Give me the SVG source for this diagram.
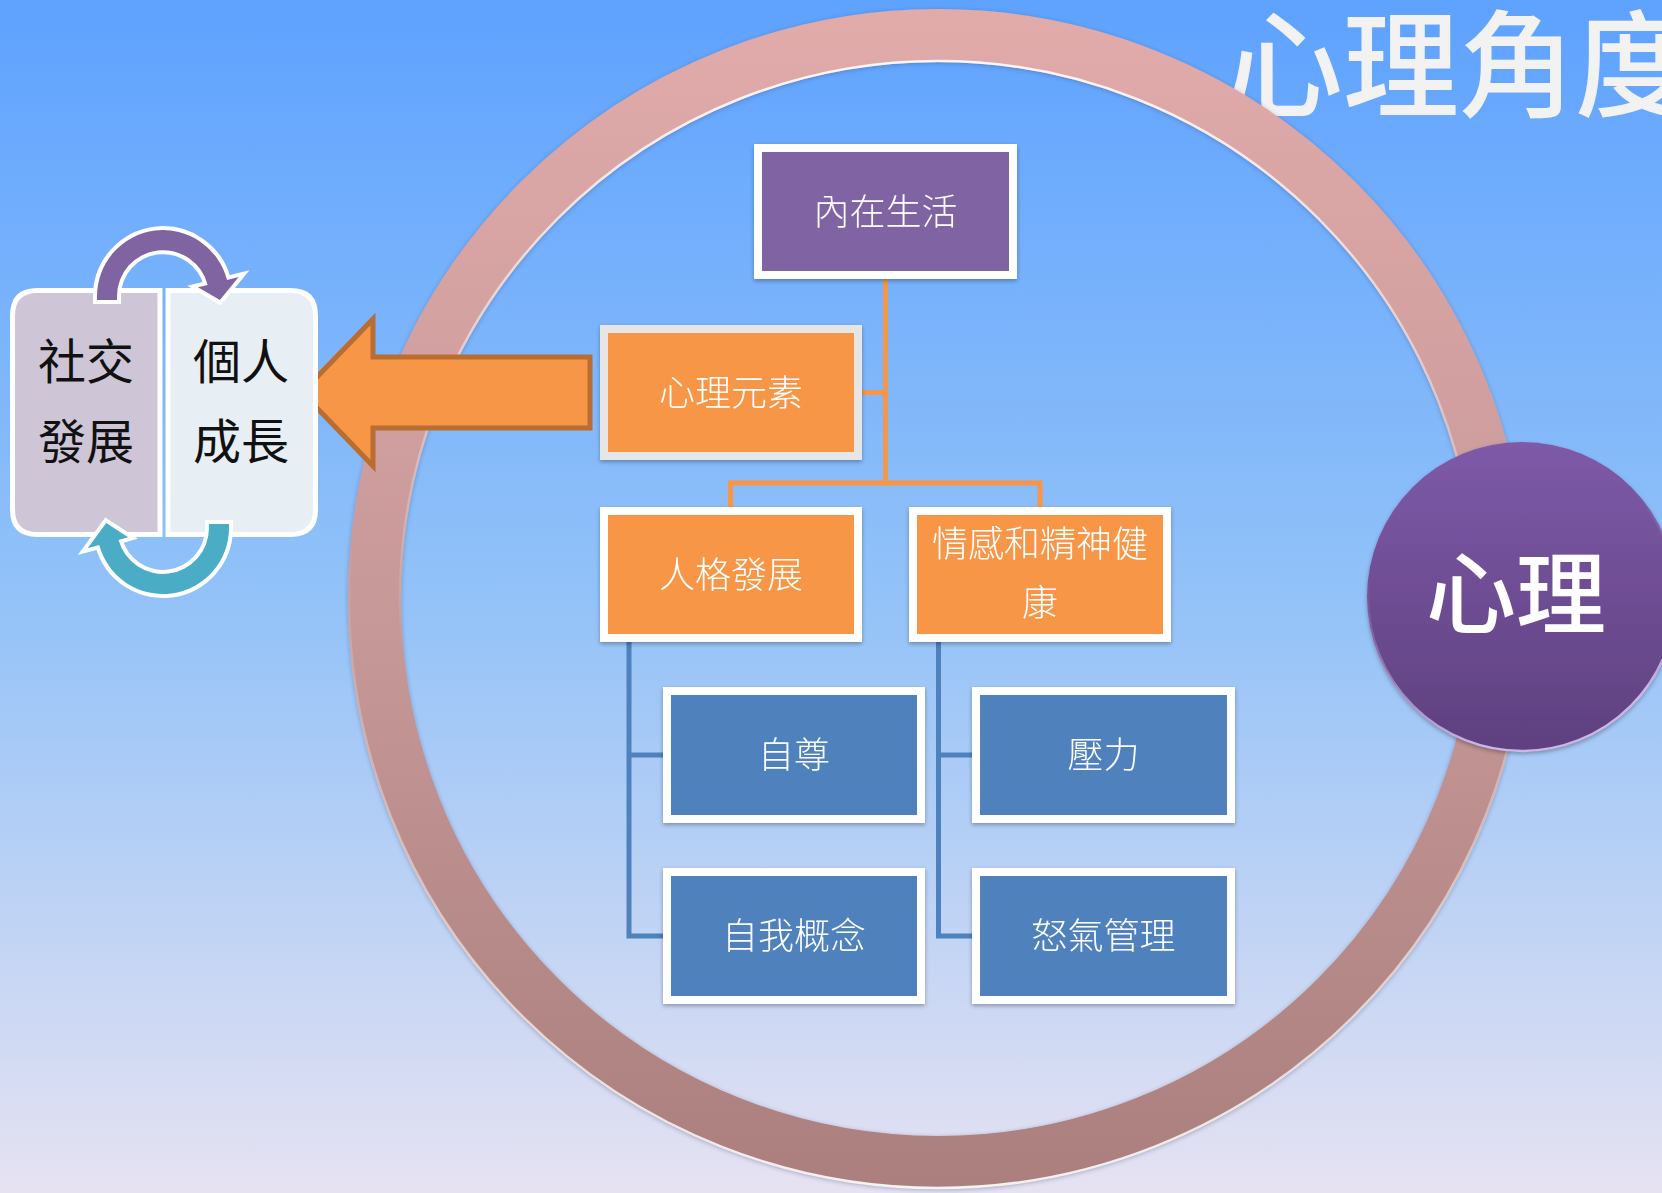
<svg xmlns="http://www.w3.org/2000/svg" width="1662" height="1193" viewBox="0 0 1662 1193">
<defs>
<linearGradient id="bg" x1="0" y1="0" x2="0" y2="1">
<stop offset="0" stop-color="#5ea2ff"/>
<stop offset="0.5" stop-color="#92c2f8"/>
<stop offset="1" stop-color="#e6e2f2"/>
</linearGradient>
<linearGradient id="ringG" gradientUnits="userSpaceOnUse" x1="0" y1="8" x2="0" y2="1190">
<stop offset="0" stop-color="#e1abaa"/>
<stop offset="0.5" stop-color="#c89999"/>
<stop offset="1" stop-color="#aa7f7e"/>
</linearGradient>
<linearGradient id="hiTop" gradientUnits="userSpaceOnUse" x1="0" y1="60" x2="0" y2="1140">
<stop offset="0" stop-color="#ffffff" stop-opacity="0.9"/>
<stop offset="0.55" stop-color="#ffffff" stop-opacity="0"/>
</linearGradient>
<linearGradient id="hiBot" gradientUnits="userSpaceOnUse" x1="0" y1="8" x2="0" y2="1190">
<stop offset="0.45" stop-color="#ffffff" stop-opacity="0"/>
<stop offset="1" stop-color="#ffffff" stop-opacity="0.9"/>
</linearGradient>
<linearGradient id="discG" x1="0" y1="0" x2="0" y2="1">
<stop offset="0" stop-color="#7e5aa8"/>
<stop offset="1" stop-color="#5e407f"/>
</linearGradient>
<linearGradient id="discRim" x1="0" y1="0" x2="0.3" y2="1">
<stop offset="0.4" stop-color="#c6b0ea" stop-opacity="0"/>
<stop offset="1" stop-color="#d6c4f2" stop-opacity="0.9"/>
</linearGradient>
<filter id="sh" x="-10%" y="-10%" width="120%" height="130%">
<feDropShadow dx="0" dy="2" stdDeviation="2" flood-color="#000" flood-opacity="0.3"/>
</filter>
<filter id="ringSh" x="-5%" y="-5%" width="110%" height="110%">
<feDropShadow dx="0" dy="1" stdDeviation="2" flood-color="#2a3a60" flood-opacity="0.35"/>
</filter>
</defs>
<style>
.cjk{font-family:"Noto Sans CJK TC","Noto Sans CJK SC",sans-serif;}
.nt{font-size:36px;fill:#ffffff;text-anchor:middle;font-weight:300;}
.lt{font-size:48px;fill:#111111;text-anchor:middle;}
.box rect{stroke:#ffffff;stroke-width:8;}
.orange{fill:#f79646;}
.purple{fill:#8064a2;}
.blue{fill:#4f81bd;}
.oc{stroke:#f79646;stroke-width:5;fill:none;}
.bc{stroke:#4f81bd;stroke-width:5;fill:none;}
</style>
<rect x="0" y="0" width="1662" height="1193" fill="url(#bg)"/>

<g id="title">
<text class="cjk" x="1227" y="108" font-size="116" font-weight="500" fill="#f2f2f2">心理角度</text>
</g>

<g id="ring">
<circle cx="938" cy="599" r="563.5" fill="none" stroke="url(#ringG)" stroke-width="53" filter="url(#ringSh)"/>
<circle cx="938" cy="599" r="538" fill="none" stroke="url(#hiTop)" stroke-width="2.5"/>
<circle cx="938" cy="599" r="589" fill="none" stroke="url(#hiBot)" stroke-width="2.5"/>
</g>

<g id="disc-psych">
<circle cx="1522" cy="597" r="155" fill="url(#discG)" filter="url(#sh)"/>
<circle cx="1522" cy="597" r="154" fill="none" stroke="url(#discRim)" stroke-width="2.5"/>
<text class="cjk" x="1516" y="627" font-size="90" font-weight="500" fill="#ffffff" text-anchor="middle">心理</text>
</g>

<g id="connectors">
<path class="oc" d="M885.5 279 V483 M862 392.5 H885.5 M730.5 507 V483 H1040 V507"/>
<path class="bc" d="M629 642 V936 H663 M629 755 H663"/>
<path class="bc" d="M938.5 642 V936 H972 M938.5 755 H972"/>
</g>

<g id="node-inner-life" class="box" filter="url(#sh)">
<rect class="purple" x="758" y="148" width="255" height="127"/>
<text class="cjk nt" x="885.5" y="224.5">內在生活</text>
</g>
<g id="node-psych-elements" class="box" filter="url(#sh)">
<rect class="orange" x="604" y="329" width="254" height="127" style="stroke:#e6e6e6"/>
<text class="cjk nt" x="731" y="405.5">心理元素</text>
</g>
<g id="node-personality" class="box" filter="url(#sh)">
<rect class="orange" x="604" y="511" width="254" height="127"/>
<text class="cjk nt" x="731" y="587.5">人格發展</text>
</g>
<g id="node-emotional" class="box" filter="url(#sh)">
<rect class="orange" x="913" y="511" width="254" height="127"/>
<text class="cjk nt" x="1040" y="557">情感和精神健</text>
<text class="cjk nt" x="1040" y="616">康</text>
</g>
<g id="node-self-esteem" class="box" filter="url(#sh)">
<rect class="blue" x="667" y="691" width="254" height="128"/>
<text class="cjk nt" x="794" y="768">自尊</text>
</g>
<g id="node-self-concept" class="box" filter="url(#sh)">
<rect class="blue" x="667" y="872" width="254" height="128"/>
<text class="cjk nt" x="794" y="949">自我概念</text>
</g>
<g id="node-stress" class="box" filter="url(#sh)">
<rect class="blue" x="976" y="691" width="255" height="128"/>
<text class="cjk nt" x="1103.5" y="768">壓力</text>
</g>
<g id="node-anger" class="box" filter="url(#sh)">
<rect class="blue" x="976" y="872" width="255" height="128"/>
<text class="cjk nt" x="1103.5" y="949">怒氣管理</text>
</g>

<g id="big-arrow">
<path d="M302 392.5 L373 319 V357 H590 V428 H373 V466 Z" fill="#f79646" stroke="#b96d30" stroke-width="5" stroke-linejoin="miter"/>
</g>

<g id="cycle">
<path d="M12.5 315.5 Q12.5 290.5 37.5 290.5 H160 V534.5 H37.5 Q12.5 534.5 12.5 509.5 Z" fill="#cec6d7" stroke="#ffffff" stroke-width="5"/>
<path d="M168 290.5 H290.5 Q315.5 290.5 315.5 315.5 V509.5 Q315.5 534.5 290.5 534.5 H168 Z" fill="#e8eff4" stroke="#ffffff" stroke-width="5"/>
<path d="M97 300 L97 296 A66 66 0 0 1 227 280 L238.7 277.1 L219.9 300 L197.9 287.3 L207.6 284.9 A46 46 0 0 0 117 296 L117 300 Z" fill="#8064a2" stroke="#ffffff" stroke-width="8" stroke-linejoin="miter" paint-order="stroke"/>
<path d="M229 524 L229 528 A66 66 0 0 1 99.25 545.1 L87.7 548.2 L106.2 523 L128.2 537.3 L118.6 539.9 A46 46 0 0 0 209 528 L209 524 Z" fill="#4bacc6" stroke="#ffffff" stroke-width="8" stroke-linejoin="miter" paint-order="stroke"/>
<text class="cjk lt" x="86" y="379">社交</text>
<text class="cjk lt" x="86" y="459">發展</text>
<text class="cjk lt" x="241" y="379">個人</text>
<text class="cjk lt" x="241" y="459">成長</text>
</g>
</svg>
